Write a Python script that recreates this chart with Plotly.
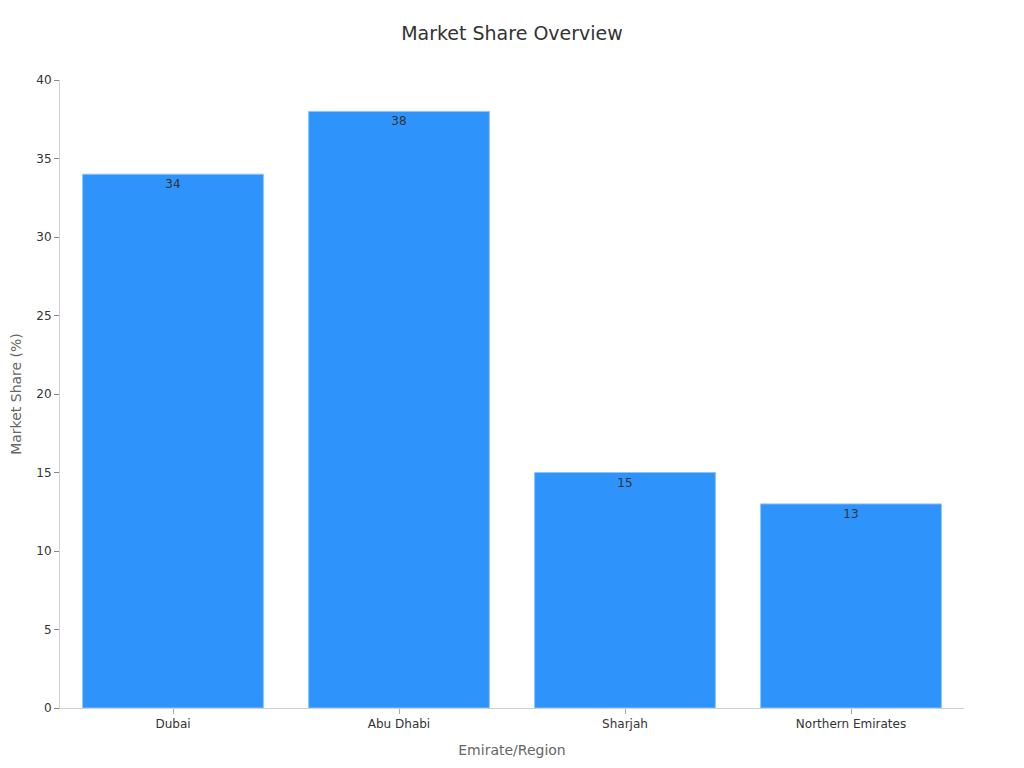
import plotly.graph_objects as go

regions = ["Dubai", "Abu Dhabi", "Sharjah", "Northern Emirates"]
market_share = [34, 38, 15, 13]

font_family = "DejaVu Sans, Verdana, sans-serif"

fig = go.Figure()
fig.add_trace(go.Bar(
    x=regions,
    y=market_share,
    text=market_share,
    textposition="inside",
    insidetextanchor="end",
    textfont=dict(size=12, color="#333333", family=font_family),
    marker=dict(color="#2E93FA", line=dict(color="#8cc4fb", width=1)),
    width=0.8,
    hoverinfo="x+y",
))

fig.update_layout(
    title=dict(text="Market Share Overview", x=0.5, xref="paper", xanchor="center",
               y=0.9674, yanchor="middle",
               font=dict(size=19, color="#333333", family=font_family)),
    width=1024,
    height=768,
    margin=dict(l=52, r=68, t=72, b=68),
    plot_bgcolor="white",
    paper_bgcolor="white",
    showlegend=False,
    font=dict(family=font_family, color="#333333"),
    xaxis=dict(
        title=dict(text="Emirate/Region", font=dict(size=14, color="#666666"), standoff=14),
        showline=True, linecolor="#d0d0d0", linewidth=1,
        ticks="outside", tickcolor="#aaaaaa", ticklen=5,
        tickfont=dict(size=12, color="#333333"),
        showgrid=False, automargin=False,
    ),
    yaxis=dict(
        title=dict(text="Market Share (%)", font=dict(size=14, color="#666666"), standoff=20),
        range=[0, 40], dtick=5,
        showline=True, linecolor="#d0d0d0", linewidth=1,
        ticks="outside", tickcolor="#888888", ticklen=5,
        tickfont=dict(size=12, color="#333333"),
        showgrid=False, zeroline=False, automargin=False,
    ),
)

fig.write_html("out.html")
